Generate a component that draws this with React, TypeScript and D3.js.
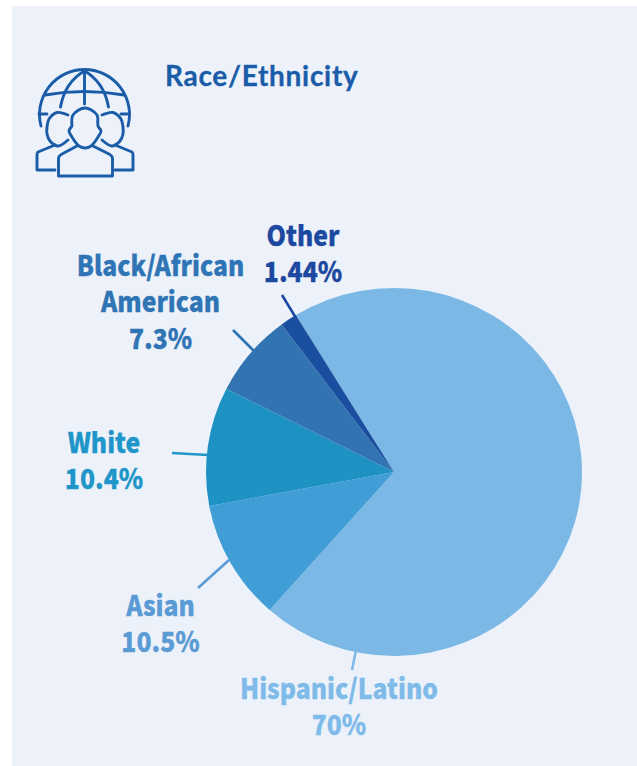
import React from "react";
import * as d3 from "d3";

// Population share by race/ethnicity, in percent.
const categories = ["Hispanic/Latino", "Asian", "White", "Black/African American", "Other"];
const shares = [70, 10.5, 10.4, 7.3, 1.44];
const shareLabels = ["70%", "10.5%", "10.4%", "7.3%", "1.44%"];
const sliceColors = ["#7cb8e5", "#409dd6", "#1f92c4", "#3274b2", "#1a4e9f"];
const labelColors = ["#7fbbe9", "#5b9bd5", "#1f96c9", "#2f75b5", "#1c48a0"];

const labelLines = [["Hispanic/Latino"], ["Asian"], ["White"], ["Black/African", "American"], ["Other"]];
const labelAnchors = [
  { x: 339, y: 699 },
  { x: 160.5, y: 616 },
  { x: 104, y: 453 },
  { x: 160.5, y: 276 },
  { x: 303, y: 246 },
];
const leaders = [
  { x1: 352, y1: 670, x2: 356, y2: 650 },
  { x1: 198, y1: 588, x2: 229, y2: 560 },
  { x1: 172, y1: 453, x2: 208, y2: 455 },
  { x1: 233, y1: 330, x2: 254, y2: 351 },
  { x1: 282, y1: 295, x2: 296, y2: 318 },
];

const WIDTH = 637;
const HEIGHT = 766;
const CX = 394;
const CY = 472;
const RADIUS = 188;
const LABEL_FONT = "'Noto Sans CJK SC', 'Noto Sans', sans-serif";
const ICON_BLUE = "#1b5ca8";

function PeopleGlobeIcon() {
  const line = d3.line<[number, number]>().curve(d3.curveCatmullRom.alpha(0.5));
  const sidePerson: [number, number][] = [
    [68, 115], [57, 112.5], [49, 119], [47, 127], [47, 134], [50, 141], [58, 146], [68, 140],
  ];
  const mirror = (pts: [number, number][]) => pts.map(([x, y]) => [170 - x, y] as [number, number]);
  const head: [number, number][] = [
    [72, 126], [73, 115], [85, 108], [97, 115], [98, 126], [101, 131], [98, 137], [91, 146],
    [85, 148], [79, 146], [72, 137], [69, 131], [72, 126],
  ];
  return (
    <g fill="none" stroke={ICON_BLUE} strokeWidth={2.9} strokeLinecap="round" strokeLinejoin="round">
      <path d="M41 126 A45 45 0 1 1 128 126" />
      <path d="M45 95 Q84 88 124 95" />
      <path d="M84.5 71 V104" />
      <path d="M84.5 71 Q65 82 60.5 107" />
      <path d="M84.5 71 Q104 82 108.5 107" />
      <path d="M39 114 H47 M121 114 H129" />
      <path d={line(sidePerson) ?? ""} />
      <path d={line(mirror(sidePerson)) ?? ""} />
      <path d="M55 145 L38 152 Q37 153 37 155 V170 H55" />
      <path d="M115 145 L132 152 Q133 153 133 155 V170 H115" />
      <path d={line(head) ?? ""} />
      <path d="M77 146 L62 154 Q58 156 58.5 160 V176 H112.5 V160 Q113 156 109 154 L93 146" />
    </g>
  );
}

export default function App() {
  // Slices run clockwise from the Hispanic/Latino edge, in the order of the arrays.
  const pie = d3
    .pie<number>()
    .sort(null)
    .startAngle((-31.5 * Math.PI) / 180)
    .endAngle((328.5 * Math.PI) / 180);
  const arc = d3.arc<d3.PieArcDatum<number>>().innerRadius(0).outerRadius(RADIUS);
  const slices = pie(shares);

  return (
    <svg
      width={WIDTH}
      height={HEIGHT}
      viewBox={`0 0 ${WIDTH} ${HEIGHT}`}
      style={{ position: "absolute", left: 0, top: 0, display: "block" }}
    >
      <rect width={WIDTH} height={HEIGHT} fill="#ffffff" />
      <rect x={12} y={6} width={WIDTH - 12} height={HEIGHT - 6} fill="#edf2fa" />

      <PeopleGlobeIcon />
      <text
        x={165}
        y={86}
        fontFamily="Lato, sans-serif"
        fontWeight={700}
        fontSize={28}
        letterSpacing={0.7}
        stroke={ICON_BLUE}
        strokeWidth={0.3}
        fill={ICON_BLUE}
      >
        Race/Ethnicity
      </text>

      {leaders.map((l, i) => (
        <line key={categories[i]} {...l} stroke={labelColors[i]} strokeWidth={2.6} />
      ))}

      <g transform={`translate(${CX},${CY}) scale(1,0.979)`}>
        {slices.map((s, i) => (
          <path key={categories[i]} d={arc(s) ?? ""} fill={sliceColors[i]} />
        ))}
      </g>

      {categories.map((c, i) => {
        const rows = [...labelLines[i], shareLabels[i]];
        return (
          // Slightly condensed heavy labels, centred on their anchors
          <text
            key={c}
            transform={`translate(${labelAnchors[i].x},${labelAnchors[i].y}) scale(0.9,1)`}
            textAnchor="middle"
            fontFamily={LABEL_FONT}
            fontWeight={900}
            fontSize={27.5}
            fill={labelColors[i]}
            stroke={labelColors[i]}
            strokeWidth={0.3}
          >
            {rows.map((r, j) => (
              <tspan key={r} x={0} dy={j === 0 ? 0 : 36.5}>
                {r}
              </tspan>
            ))}
          </text>
        );
      })}
    </svg>
  );
}
